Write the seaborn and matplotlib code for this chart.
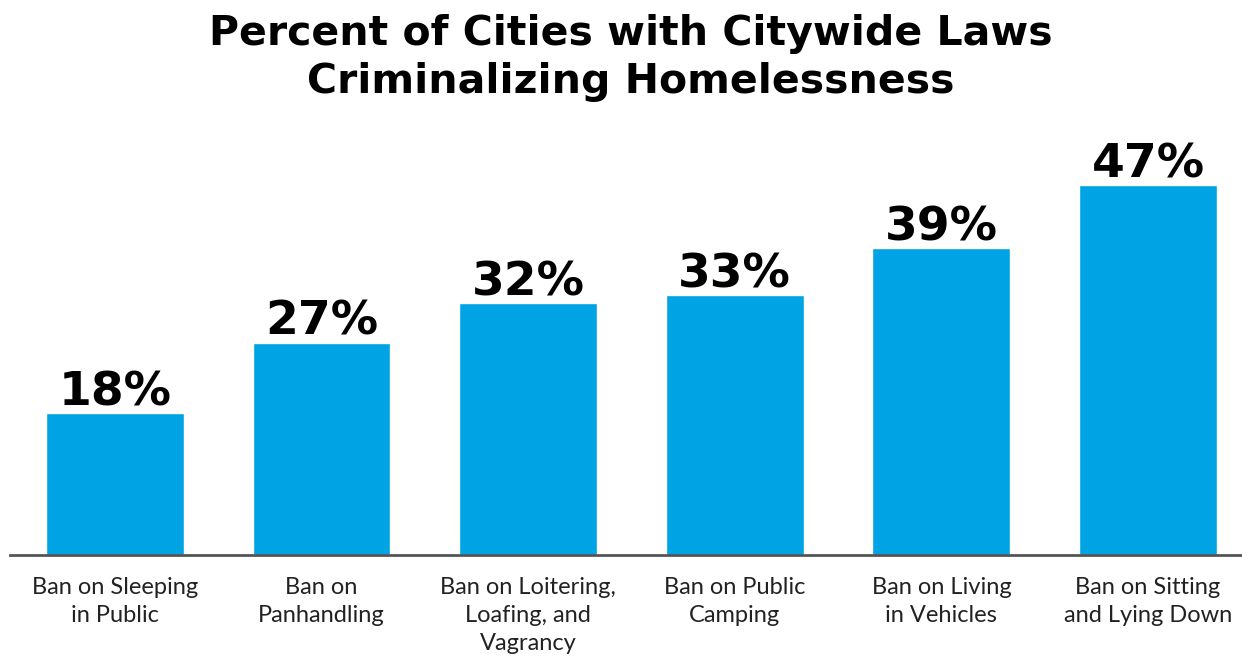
import matplotlib
matplotlib.use("Agg")
import matplotlib.pyplot as plt
import seaborn as sns
import pandas as pd

categories = ["Ban on Sleeping\nin Public", "Ban on\nPanhandling",
              "Ban on Loitering,\nLoafing, and\nVagrancy", "Ban on Public\nCamping",
              "Ban on Living\nin Vehicles", "Ban on Sitting\nand Lying Down"]
values = [18, 27, 32, 33, 39, 47]
title = "Percent of Cities with Citywide Laws\nCriminalizing Homelessness"

sns.set_theme(style="white")
plt.rcParams['font.family'] = ['Lato', 'DejaVu Sans']

df = pd.DataFrame({"cat": categories, "val": values})
fig = plt.figure(figsize=(12.42, 6.58), dpi=100)
ax = fig.add_axes([10/1242, 103/658, 1232/1242, 393.5/658])
sns.barplot(data=df, x="cat", y="val", color="#00A4E4", width=0.667,
            saturation=1, ax=ax)
ax.set_xlim(-0.508, 5.455)
ax.set_ylim(0, 50)
ax.set_xlabel("")
ax.set_ylabel("")
ax.set_yticks([])
for s in ["top", "right", "left"]:
    ax.spines[s].set_visible(False)
ax.spines["bottom"].set_color("#555555")
ax.spines["bottom"].set_linewidth(2)
ax.tick_params(axis="x", length=0, pad=16, labelsize=17, labelcolor="#222222")
for t in ax.get_xticklabels():
    t.set_ha("center")
    t.set_va("top")
    t.set_linespacing(1.4)
for p, v in zip(ax.patches, values):
    ax.text(p.get_x() + p.get_width()/2, p.get_height() + 1.0, f"{v}%",
            ha="center", va="baseline", fontsize=34, fontweight="bold",
            color="black", family="DejaVu Sans")
fig.text(0.508, 0.978, title, ha="center", va="top", fontsize=29.5,
         fontweight="bold", color="black", linespacing=1.25, family="DejaVu Sans")
fig.savefig("out.png", dpi=100)
